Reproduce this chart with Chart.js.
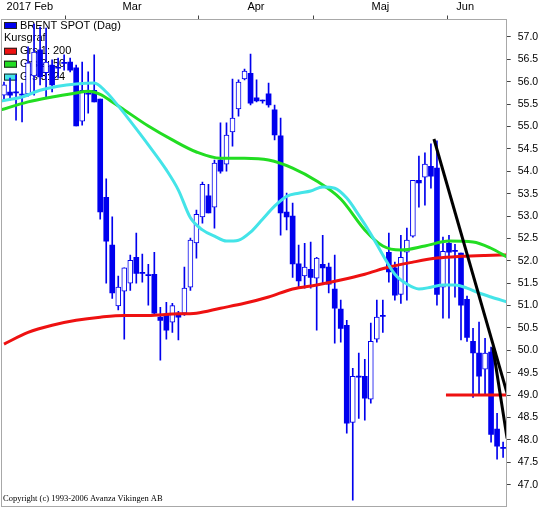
<!DOCTYPE html>
<html>
<head>
<meta charset="utf-8">
<script src="https://cdn.jsdelivr.net/npm/chart.js@4.4.1/dist/chart.umd.min.js"></script>
<style>
  html, body { margin: 0; padding: 0; background: #fff; overflow: hidden; }
  #wrap { width: 542px; height: 507px; position: relative; }
</style>
</head>
<body>
<div id="wrap"><canvas id="chart"></canvas></div>
<script>
// daily candles, BRENT SPOT, mid Feb - early Jun 2017
const opens = [55.70,55.77,55.75,55.70,55.73,56.13,56.71,56.20,56.37,56.30,
  56.41,56.44,56.31,55.12,55.72,55.81,55.61,53.42,52.35,50.99,
  51.32,51.50,52.08,51.72,51.67,51.70,50.74,50.78,50.63,50.83,
  50.83,51.41,52.40,52.98,53.45,53.20,54.25,54.16,54.88,55.39,
  56.06,56.19,55.64,55.57,55.73,55.37,54.79,53.09,53.00,51.93,
  51.66,51.81,51.61,51.92,51.86,51.37,50.92,50.56,48.39,49.40,
  49.42,48.91,50.25,50.76,52.19,51.84,51.25,52.19,52.55,53.80,
  53.87,54.11,54.07,51.41,52.39,52.21,52.17,51.14,50.20,49.94,
  49.58,49.96,48.24,47.81];
const closes = [55.93,55.70,55.75,55.70,56.42,56.66,56.11,56.44,55.93,56.30,
  56.41,56.26,55.01,55.81,55.72,55.55,53.09,52.44,51.28,51.41,
  51.84,52.01,51.72,51.72,51.67,50.83,50.67,50.45,51.00,50.74,
  51.39,52.46,53.04,53.71,53.07,54.18,54.00,54.81,55.19,55.99,
  56.24,55.52,55.57,55.57,55.48,54.81,53.07,52.98,51.93,51.55,
  51.86,51.63,52.06,51.84,51.48,50.94,50.49,48.37,49.42,49.40,
  48.93,50.20,50.74,50.76,51.75,51.23,52.08,52.46,53.80,53.74,
  54.16,53.89,51.25,52.21,52.19,52.21,51.01,50.29,49.94,49.42,
  49.94,48.12,47.86,47.81];
const highs = [55.99,56.08,56.15,55.97,56.78,57.29,57.22,57.20,56.49,56.53,
  56.60,56.53,56.37,56.44,56.22,56.60,55.61,53.83,52.98,51.66,
  51.84,52.13,52.62,52.15,51.92,52.19,50.96,51.07,51.05,50.87,
  51.86,52.51,53.13,53.76,53.71,54.25,55.08,55.08,56.06,56.04,
  56.28,56.62,56.04,55.59,55.97,55.48,55.19,53.51,53.29,52.35,
  52.39,52.42,52.08,52.57,51.95,52.13,51.12,50.67,49.60,49.94,
  49.80,50.61,51.12,51.12,52.62,51.97,52.57,52.73,53.80,54.34,
  54.41,54.61,54.68,52.53,52.57,52.37,52.17,51.21,50.49,50.63,
  50.27,50.07,48.59,47.95];
const lows = [55.59,55.59,55.14,55.10,55.68,55.70,55.93,55.66,55.77,56.08,
  56.26,56.22,55.01,55.03,55.30,55.55,52.93,51.50,51.16,50.90,
  50.25,51.34,51.50,51.52,51.01,50.78,49.78,50.25,50.40,50.23,
  50.78,51.34,52.06,52.84,53.07,52.73,53.96,54.00,54.56,55.23,
  56.04,55.48,55.55,55.52,55.43,54.70,52.57,52.69,51.63,51.39,
  51.39,51.39,50.45,51.50,51.28,50.16,50.18,48.15,46.65,48.48,
  48.44,48.82,50.18,50.40,51.52,51.12,51.05,51.12,52.53,53.20,
  53.24,53.62,51.01,50.72,50.72,51.19,50.23,50.20,48.95,48.99,
  48.99,47.95,47.57,47.61];

// moving averages, read at some candle positions
const ma200Idx = [0,4,8,12,16,20,24,28,32,36,40,44,48,52,56,60,64,68,72,76,80,83.7];
const ma200 = [50.14,50.40,50.56,50.67,50.74,50.78,50.78,50.81,50.83,50.94,51.05,51.19,51.37,51.46,51.57,51.70,51.86,51.97,52.06,52.10,52.12,52.13];
const ma50Idx = [-0.5,4,8,12,14,16,18,20,24,28,32,36,40,44,48,52,56,60,63,66,70,74,78,81,83.7];
const ma50 = [55.37,55.55,55.66,55.75,55.79,55.72,55.55,55.37,55.01,54.70,54.43,54.29,54.29,54.25,54.07,53.78,53.38,52.69,52.33,52.24,52.33,52.44,52.42,52.28,52.08];
const ma24Idx = [-0.5,3,6,9,12,15,17,19,21,24,27,29,31,33,35,37,39,41,43,45,47,49,51,53,55,57,59,61,63,65,67,69,71,73,75,77,79,81,83.7];
const ma24 = [55.57,55.66,55.81,55.90,55.95,55.97,55.77,55.46,55.12,54.59,54.03,53.58,52.96,52.69,52.55,52.44,52.46,52.64,52.93,53.22,53.44,53.51,53.56,53.65,53.62,53.40,53.02,52.60,52.13,51.70,51.48,51.37,51.41,51.46,51.46,51.39,51.28,51.19,51.08];

// drawn lines
const trendAIdx = [71.5, 83.67];
const trendA = [54.72, 49.04];
const trendBIdx = [81.3, 83.67];
const trendB = [50.07, 48.03];
const supportIdx = [73.5, 83.67];
const support = [49.0, 49.0];

// axes
const yTicks = [47,47.5,48,48.5,49,49.5,50,50.5,51,51.5,52,52.5,53,53.5,54,54.5,55,55.5,56,56.5,57];
const monthLabels = ['2017 Feb', 'Mar', 'Apr', 'Maj', 'Jun'];
const monthLabelPos = [4.3, 21.3, 41.9, 62.6, 76.7];
const monthStarts = [10.2, 32.3, 51.5, 73.7];

const legendLabels = ['BRENT SPOT (Dag)', 'Kursgraf', 'Grs 1: 200', 'Grs 2: 50', 'Grs 3: 24'];
const legendColors = ['#0000ee', null, '#ee1111', '#22dd22', '#44e4e8'];

const BLUE = '#0000ee';

const wicks = highs.map((h, i) => ({ x: i, y: [lows[i], h] }));
const upBodies = [], downBodies = [];
opens.forEach((o, i) => {
  if (closes[i] > o) upBodies.push({ x: i, y: [o, closes[i]] });
  else downBodies.push({ x: i, y: [closes[i], o] });
});
const pts = (idx, vals) => idx.map((x, k) => ({ x: x, y: vals[k] }));

const frame = {
  id: 'frame',
  afterDraw(chart) {
    const { ctx, chartArea: a } = chart;
    const l = Math.floor(a.left) + 0.5, t = Math.floor(a.top) + 0.5;
    const r = Math.floor(a.right) + 0.5, b = Math.floor(a.bottom) - 0.5;
    ctx.save();
    ctx.strokeStyle = '#a8a8a8';
    ctx.lineWidth = 1;
    ctx.strokeRect(l, t, r - l, b - t);
    ctx.fillStyle = '#000';
    ctx.font = '8.5px "Liberation Serif"';
    ctx.textBaseline = 'middle';
    ctx.fillText('Copyright (c) 1993-2006 Avanza Vikingen AB', 3, 499);
    ctx.restore();
  }
};

const legendBox = {
  id: 'legendBox',
  beforeDatasetsDraw(chart) {
    const ctx = chart.ctx;
    ctx.save();
    ctx.font = '11px "Liberation Sans"';
    ctx.textBaseline = 'middle';
    legendLabels.forEach((t, k) => {
      const y = 25.5 + k * 12.9;
      let tx = 4;
      if (legendColors[k]) {
        ctx.fillStyle = legendColors[k];
        ctx.fillRect(4, y - 3.5, 13, 7);
        ctx.strokeStyle = '#222';
        ctx.lineWidth = 1;
        ctx.strokeRect(4.5, y - 3, 12, 6);
        tx = 20;
      }
      ctx.fillStyle = '#000';
      ctx.fillText(t, tx, y);
    });
    ctx.restore();
  }
};

new Chart(document.getElementById('chart'), {
  type: 'bar',
  data: {
    datasets: [
      { type: 'line', data: pts(trendAIdx, trendA), borderColor: '#000', borderWidth: 3, pointRadius: 0, order: 0 },
      { type: 'line', data: pts(trendBIdx, trendB), borderColor: '#000', borderWidth: 3, pointRadius: 0, order: 0 },
      { type: 'line', data: pts(supportIdx, support), borderColor: '#ee1111', borderWidth: 3, pointRadius: 0, order: 0 },
      { type: 'line', data: pts(ma24Idx, ma24), borderColor: '#44e4e8', borderWidth: 3, pointRadius: 0, cubicInterpolationMode: 'monotone', order: 1 },
      { type: 'line', data: pts(ma50Idx, ma50), borderColor: '#22dd22', borderWidth: 3, pointRadius: 0, cubicInterpolationMode: 'monotone', order: 1 },
      { type: 'line', data: pts(ma200Idx, ma200), borderColor: '#ee1111', borderWidth: 3, pointRadius: 0, cubicInterpolationMode: 'monotone', order: 1 },
      { data: upBodies, backgroundColor: '#fff', borderColor: BLUE, borderWidth: 1, borderSkipped: false, barThickness: 5, minBarLength: 2, grouped: false, order: 2 },
      { data: downBodies, backgroundColor: BLUE, borderColor: BLUE, borderWidth: 0, borderSkipped: false, barThickness: 5, minBarLength: 1, grouped: false, order: 2 },
      { data: wicks, backgroundColor: BLUE, barThickness: 1, grouped: false, order: 3 }
    ]
  },
  options: {
    responsive: true,
    maintainAspectRatio: false,
    animation: false,
    layout: { padding: { left: 1, right: 0, top: 0, bottom: 0 } },
    plugins: { legend: { display: false }, tooltip: { enabled: false } },
    scales: {
      x: {
        type: 'linear',
        position: 'top',
        min: -0.5,
        max: 83.6,
        offset: false,
        afterBuildTicks: s => {
          const t = monthStarts.map(v => ({ value: v, mark: true }))
            .concat(monthLabelPos.map((v, k) => ({ value: v, txt: monthLabels[k] })));
          s.ticks = t.sort((a, b) => a.value - b.value);
        },
        afterFit: s => { s.height = 19.5; s.paddingLeft = 0; s.paddingRight = 0; },
        ticks: {
          autoSkip: false, maxRotation: 0, padding: 2, color: '#000',
          font: { family: '"Liberation Sans"', size: 11 },
          callback: (v, i, t) => t[i].txt || ''
        },
        grid: {
          offset: false, drawOnChartArea: false, tickLength: 4, lineWidth: 1,
          color: c => (c.tick && c.tick.mark) ? '#444' : 'rgba(0,0,0,0)'
        },
        border: { display: false }
      },
      y: {
        type: 'linear',
        position: 'right',
        min: 46.5,
        max: 57.39,
        afterBuildTicks: s => { s.ticks = yTicks.map(v => ({ value: v })); },
        afterFit: s => { s.width = 35.3; s.paddingTop = 0; s.paddingBottom = 0; },
        ticks: {
          padding: 7, color: '#000',
          font: { family: '"Liberation Sans"', size: 10.5 },
          callback: v => Number(v).toFixed(1)
        },
        grid: { drawOnChartArea: false, tickLength: 4, color: '#444' },
        border: { display: false }
      }
    }
  },
  plugins: [frame, legendBox]
});
</script>
</body>
</html>
